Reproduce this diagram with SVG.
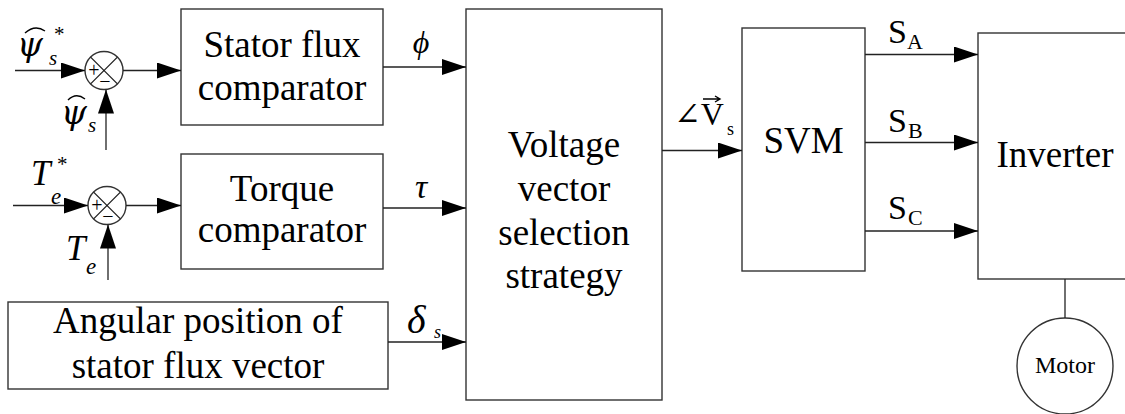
<svg xmlns="http://www.w3.org/2000/svg" width="1125" height="414" viewBox="0 0 1125 414">
<style>
.box{fill:#fff;stroke:#333;stroke-width:1.4}
.ln{fill:none;stroke:#222;stroke-width:1.3}
.acc{fill:none;stroke:#000;stroke-width:1.4}
.t{font-family:"Liberation Serif","Times New Roman",serif;font-size:37px;fill:#000;text-anchor:middle}
.m{font-family:"Liberation Serif","DejaVu Serif",serif;font-style:italic;fill:#000}
.g{font-family:"DejaVu Serif","Liberation Serif",serif;font-style:italic;fill:#000}
.r{font-family:"Liberation Serif","DejaVu Serif",serif;fill:#000}
</style>
<defs>
<marker id="ah" markerWidth="24" markerHeight="16" refX="24" refY="8" orient="auto" markerUnits="userSpaceOnUse">
<path d="M0,0 L24,8 L0,16 Z" fill="#000"/>
</marker>
</defs>

<g id="sum1">
<circle cx="104" cy="70.5" r="19" class="box"/>
<path d="M90.6,57.1 L117.4,83.9 M117.4,57.1 L90.6,83.9" class="ln"/>
<text x="94" y="77" class="r" font-size="20" text-anchor="middle">+</text>
<text x="105" y="88" class="r" font-size="20" text-anchor="middle">−</text>
</g>
<g id="sum2">
<circle cx="107" cy="205.5" r="19" class="box"/>
<path d="M93.6,192.1 L120.4,218.9 M120.4,192.1 L93.6,218.9" class="ln"/>
<text x="97" y="212" class="r" font-size="20" text-anchor="middle">+</text>
<text x="108" y="223" class="r" font-size="20" text-anchor="middle">−</text>
</g>

<g id="stator">
<rect x="181" y="9" width="202" height="116" class="box"/>
<text x="282" y="57" class="t">Stator flux</text>
<text x="282" y="100" class="t">comparator</text>
</g>
<g id="torque">
<rect x="181" y="154" width="202" height="115" class="box"/>
<text x="282" y="201" class="t">Torque</text>
<text x="282" y="242" class="t">comparator</text>
</g>
<g id="angular">
<rect x="8" y="302" width="380" height="87" class="box"/>
<text x="198" y="333" class="t">Angular position of</text>
<text x="198" y="378" class="t">stator flux vector</text>
</g>
<g id="voltage">
<rect x="466" y="9" width="196" height="391" class="box"/>
<text x="564" y="157" class="t">Voltage</text>
<text x="564" y="201" class="t">vector</text>
<text x="564" y="245" class="t">selection</text>
<text x="564" y="288" class="t">strategy</text>
</g>
<g id="svm">
<rect x="742" y="28" width="123" height="243" class="box"/>
<text x="803.5" y="153" class="t">SVM</text>
</g>
<g id="inverter">
<rect x="978" y="33" width="160" height="246" class="box"/>
<text x="1055" y="167" class="t">Inverter</text>
</g>
<g id="motor">
<circle cx="1065" cy="366" r="48" class="box"/>
<text x="1065" y="373" class="t" style="font-size:24px">Motor</text>
</g>

<g id="connectors">
<path d="M15,70.5 H85" class="ln" marker-end="url(#ah)"/>
<path d="M106,150 V89.5" class="ln" marker-end="url(#ah)"/>
<path d="M123,70.5 H181" class="ln" marker-end="url(#ah)"/>
<path d="M13,205.5 H88" class="ln" marker-end="url(#ah)"/>
<path d="M108,280 V224.5" class="ln" marker-end="url(#ah)"/>
<path d="M126,205.5 H181" class="ln" marker-end="url(#ah)"/>
<path d="M383,67 H466" class="ln" marker-end="url(#ah)"/>
<path d="M383,208 H466" class="ln" marker-end="url(#ah)"/>
<path d="M388,342 H466" class="ln" marker-end="url(#ah)"/>
<path d="M662,150.5 H742" class="ln" marker-end="url(#ah)"/>
<path d="M865,54.5 H978" class="ln" marker-end="url(#ah)"/>
<path d="M865,142.5 H978" class="ln" marker-end="url(#ah)"/>
<path d="M865,231 H978" class="ln" marker-end="url(#ah)"/>
<path d="M1065,279 V318" class="ln"/>
</g>

<g id="labels">
<text x="17" y="56" class="g" font-size="33">ψ<tspan x="49" y="65" class="m" font-size="21">s</tspan><tspan x="53" y="41" class="r" font-size="21">*</tspan></text>
<path d="M25,33 Q35,24 45,31" class="acc"/>
<text x="61" y="124" class="g" font-size="33">ψ<tspan x="88" y="132" class="m" font-size="21">s</tspan></text>
<path d="M68,100 Q76,92 85,99" class="acc"/>
<text x="31" y="185" class="m" font-size="35">T<tspan x="51" y="204" font-size="23">e</tspan><tspan x="56" y="171" class="r" font-size="21">*</tspan></text>
<text x="66" y="260" class="m" font-size="35">T<tspan x="86" y="274" font-size="23">e</tspan></text>
<text x="421" y="53" class="m" font-size="32" text-anchor="middle">ϕ</text>
<text x="421" y="198" class="m" font-size="34" text-anchor="middle">τ</text>
<text x="407" y="333" class="m" font-size="40">δ<tspan x="434" y="338" font-size="18">s</tspan></text>
<text x="674" y="125" class="r" font-size="32">∠V<tspan x="727" y="135" font-size="18">s</tspan></text>
<path d="M703,99 H719 M715,96 L720,99 L715,102" class="acc" stroke-width="1.2"/>
<text x="888" y="43" class="r" font-size="34">S<tspan x="907" y="49" font-size="22">A</tspan></text>
<text x="888" y="132" class="r" font-size="34">S<tspan x="908" y="138" font-size="22">B</tspan></text>
<text x="888" y="219" class="r" font-size="34">S<tspan x="908" y="225" font-size="22">C</tspan></text>
</g>
</svg>
